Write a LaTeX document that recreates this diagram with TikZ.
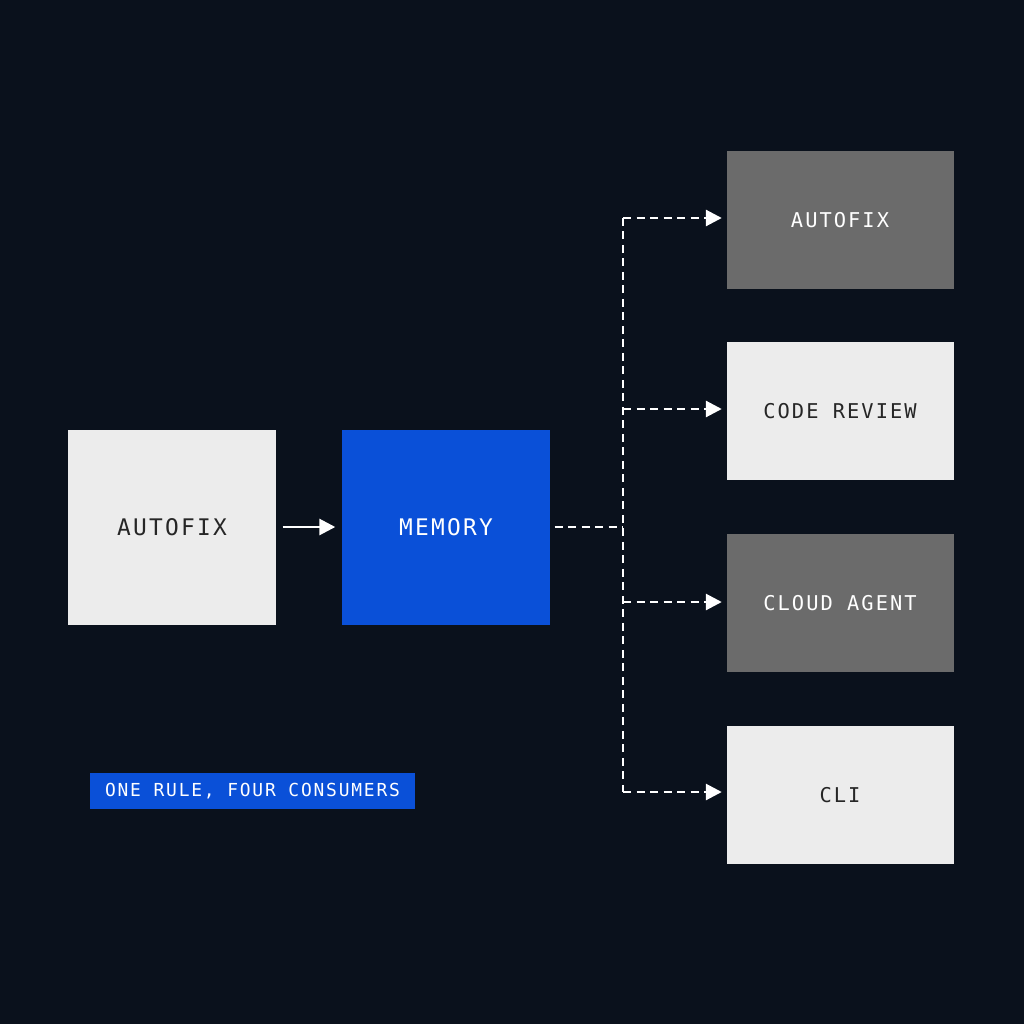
\documentclass[tikz,border=0pt]{standalone}
\usepackage{fontspec}
\newfontfamily\boxfont[LetterSpace=10]{DejaVu Sans Mono}
\usetikzlibrary{arrows.meta}
\definecolor{bg}{HTML}{0A111C}
\definecolor{paper}{HTML}{ECECEC}
\definecolor{slate}{HTML}{6B6B6B}
\definecolor{memblue}{HTML}{0A50D8}
\begin{document}
\begin{tikzpicture}[x=0.1mm,y=-0.1mm]
        \tikzstyle{every node}=[inner sep=0pt,font=\boxfont\fontsize{6.5}{8}\selectfont];
        \tikzstyle{big}=[minimum width=20.8mm,minimum height=19.5mm];
        \tikzstyle{small}=[minimum width=22.7mm,minimum height=13.8mm,font=\boxfont\fontsize{5.8}{7}\selectfont];
        \tikzstyle{dashline}=[draw=white,line width=0.8pt,dash pattern=on 0.8mm off 0.55mm];
        \tikzstyle{flow}=[dashline,-{Triangle[length=1.6mm,width=1.6mm]}];
        \fill[bg] (0,0) rectangle (1024,1024);

        \node(src)[big,fill=paper,text=black!85] at (172,527) {AUTOFIX};
        \node(mem)[big,fill=memblue,text=white] at (446,527) {MEMORY};
        \node(c1)[small,fill=slate,text=white] at (840,220) {AUTOFIX};
        \node(c2)[small,fill=paper,text=black!85] at (840,411) {CODE REVIEW};
        \node(c3)[small,fill=slate,text=white] at (840,603) {CLOUD AGENT};
        \node(c4)[small,fill=paper,text=black!85] at (840,795) {CLI};

        \draw[white,line width=0.8pt,-{Triangle[length=1.6mm,width=1.6mm]}] ([xshift=0.6mm]src.east) -- ([xshift=-0.6mm]mem.west);
        \coordinate(hub) at (623,527);
        \draw[dashline] ([xshift=0.4mm]mem.east) -- (hub);
        \draw[dashline] (623,218) -- (623,792);
        \foreach \n/\y in {c1/218,c2/409,c3/602,c4/792}{
          \draw[flow] (623,\y) -- ([xshift=-0.4mm]\n.west |- 0,\y);
        }

        \node(tag)[fill=memblue,text=white,minimum width=32.5mm,minimum height=3.6mm,
          font=\boxfont\fontsize{5.1}{6}\selectfont] at (252.5,791) {ONE RULE, FOUR CONSUMERS};
\end{tikzpicture}
\end{document}
